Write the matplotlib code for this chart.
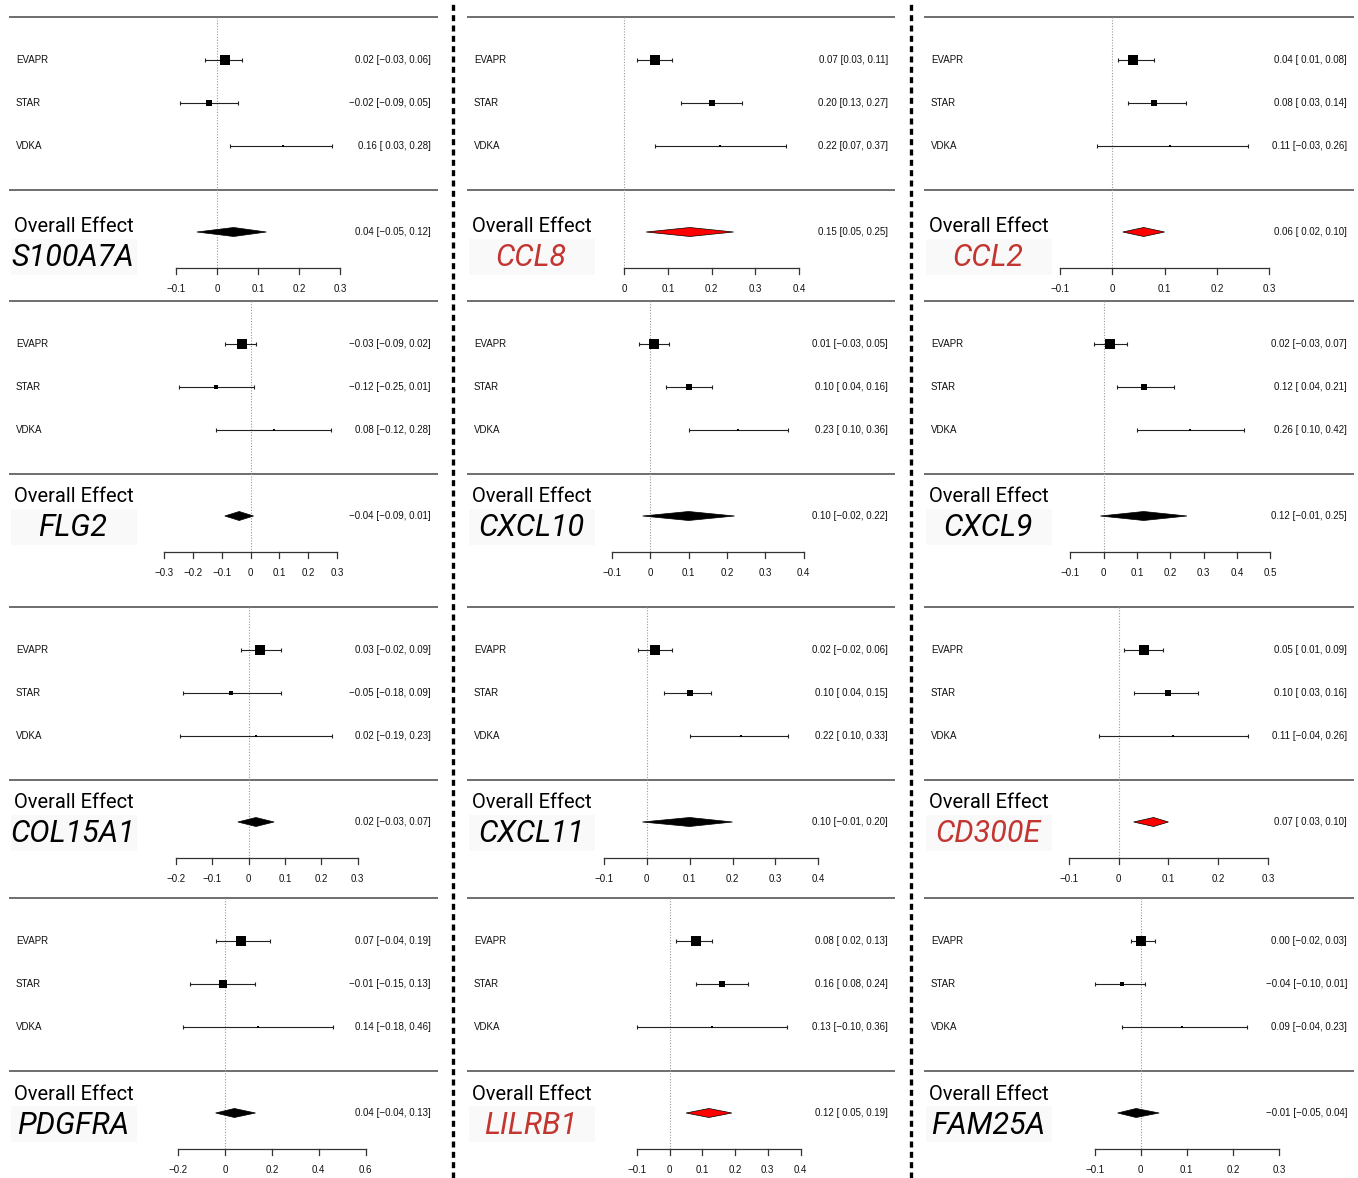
import matplotlib
matplotlib.use("Agg")
import matplotlib.pyplot as plt
from matplotlib.lines import Line2D
from matplotlib.patches import Rectangle

# genes, in reading order (row by row)
genes = ["S100A7A", "CCL8", "CCL2",
         "FLG2", "CXCL10", "CXCL9",
         "COL15A1", "CXCL11", "CD300E",
         "PDGFRA", "LILRB1", "FAM25A"]
highlight = [False, True, True,
             False, False, False,
             False, False, True,
             False, True, False]
studies = ["EVAPR", "STAR", "VDKA"]

evapr_est = [0.02, 0.07, 0.04, -0.03, 0.01, 0.02, 0.03, 0.02, 0.05, 0.07, 0.08, 0.00]
evapr_lo = [-0.03, 0.03, 0.01, -0.09, -0.03, -0.03, -0.02, -0.02, 0.01, -0.04, 0.02, -0.02]
evapr_hi = [0.06, 0.11, 0.08, 0.02, 0.05, 0.07, 0.09, 0.06, 0.09, 0.19, 0.13, 0.03]

star_est = [-0.02, 0.20, 0.08, -0.12, 0.10, 0.12, -0.05, 0.10, 0.10, -0.01, 0.16, -0.04]
star_lo = [-0.09, 0.13, 0.03, -0.25, 0.04, 0.04, -0.18, 0.04, 0.03, -0.15, 0.08, -0.10]
star_hi = [0.05, 0.27, 0.14, 0.01, 0.16, 0.21, 0.09, 0.15, 0.16, 0.13, 0.24, 0.01]

vdka_est = [0.16, 0.22, 0.11, 0.08, 0.23, 0.26, 0.02, 0.22, 0.11, 0.14, 0.13, 0.09]
vdka_lo = [0.03, 0.07, -0.03, -0.12, 0.10, 0.10, -0.19, 0.10, -0.04, -0.18, -0.10, -0.04]
vdka_hi = [0.28, 0.37, 0.26, 0.28, 0.36, 0.42, 0.23, 0.33, 0.26, 0.46, 0.36, 0.23]

overall_est = [0.04, 0.15, 0.06, -0.04, 0.10, 0.12, 0.02, 0.10, 0.07, 0.04, 0.12, -0.01]
overall_lo = [-0.05, 0.05, 0.02, -0.09, -0.02, -0.01, -0.03, -0.01, 0.03, -0.04, 0.05, -0.05]
overall_hi = [0.12, 0.25, 0.10, 0.01, 0.22, 0.25, 0.07, 0.20, 0.10, 0.13, 0.19, 0.04]

axis_ticks = [
    [-0.1, 0, 0.1, 0.2, 0.3], [0, 0.1, 0.2, 0.3, 0.4], [-0.1, 0, 0.1, 0.2, 0.3],
    [-0.3, -0.2, -0.1, 0, 0.1, 0.2, 0.3], [-0.1, 0, 0.1, 0.2, 0.3, 0.4],
    [-0.1, 0, 0.1, 0.2, 0.3, 0.4, 0.5],
    [-0.2, -0.1, 0, 0.1, 0.2, 0.3], [-0.1, 0, 0.1, 0.2, 0.3, 0.4], [-0.1, 0, 0.1, 0.2, 0.3],
    [-0.2, 0, 0.2, 0.4, 0.6], [-0.1, 0, 0.1, 0.2, 0.3, 0.4], [-0.1, 0, 0.1, 0.2, 0.3],
]

# layout (pixels)
W, H = 1358, 1178
col_left = [9, 467, 924]
col_right = [438, 895, 1354]
row_top = [17, 301, 607, 898]
zero_px = [217.3, 624.3, 1112.3, 250.7, 650.3, 1103.7, 248.7, 646.7, 1118.7, 225.0, 669.7, 1140.7]
px_per_unit = [409, 437, 523, 288, 383, 333, 363, 429, 497.5, 234.5, 327, 461]

small = dict(family="Liberation Sans", fontsize=7, color="#111111")
big_font = ["Roboto", "DejaVu Sans"]
red_txt = "#c23530"


def fnum(v):
    s = "%.2f" % v
    return s.replace("-", "\u2212")


def ci_text(est, lo, hi, pad):
    lo_s = fnum(lo)
    if pad and lo >= 0:
        lo_s = " " + lo_s
    return "%s [%s, %s]" % (fnum(est), lo_s, fnum(hi))


fig = plt.figure(figsize=(W / 100, H / 100), dpi=100)

for i, gene in enumerate(genes):
    r, c = divmod(i, 3)
    left, right, top = col_left[c], col_right[c], row_top[r]
    z, s = zero_px[i], px_per_unit[i]
    ax = fig.add_axes([left / W, 1 - (top + 285) / H, (right - left) / W, 295 / H])
    ax.set_ylim(285, -10)
    x0, x1 = (left - z) / s, (right - z) / s
    ax.set_xlim(x0, x1)
    ax.axis("off")

    def px(p):
        return (p - z) / s

    ax.plot([x0, x1], [0, 0], color="#555555", lw=1.2)
    ax.plot([x0, x1], [173, 173], color="#555555", lw=1.2)
    ax.plot([0, 0], [0, 251], color="#9a9a9a", lw=0.8, ls=(0, (1, 1.5)))

    est = [evapr_est[i], star_est[i], vdka_est[i]]
    lo = [evapr_lo[i], star_lo[i], vdka_lo[i]]
    hi = [evapr_hi[i], star_hi[i], vdka_hi[i]]
    pad = min(lo + [overall_lo[i]]) < 0

    inv = [1 / (h - l) for l, h in zip(lo, hi)]
    for k, y in enumerate([43, 86, 129]):
        t = (inv[k] - min(inv)) / (max(inv) - min(inv))
        size_px = 2.5 + 7 * t
        ax.errorbar(est[k], y, xerr=[[est[k] - lo[k]], [hi[k] - est[k]]], fmt="none",
                    ecolor="#222222", elinewidth=0.8, capsize=1.6, capthick=0.8)
        ax.plot(est[k], y, marker="s", ms=size_px * 0.72, color="black", mew=0)
        ax.text(px(left + 7), y, studies[k], ha="left", va="center", **small)
        ax.text(px(right - 7), y, ci_text(est[k], lo[k], hi[k], pad),
                ha="right", va="center", **small)

    # overall diamond
    yd, hd = 215, 4.5
    fc = "red" if highlight[i] else "black"
    ax.fill([overall_lo[i], overall_est[i], overall_hi[i], overall_est[i]],
            [yd, yd - hd, yd, yd + hd], facecolor=fc, edgecolor="black", lw=0.5, zorder=3)
    ax.text(px(right - 7), yd, ci_text(overall_est[i], overall_lo[i], overall_hi[i], pad),
            ha="right", va="center", **small)

    # x axis
    ticks = axis_ticks[i]
    ax.plot([ticks[0], ticks[-1]], [251, 251], color="#333333", lw=0.9)
    for tv in ticks:
        ax.plot([tv, tv], [251, 257], color="#333333", lw=0.9)
        lab = "0" if tv == 0 else ("%g" % tv).replace("-", "\u2212")
        ax.text(tv, 272, lab, ha="center", va="center", **small)

    # labels
    oe_y, gene_y = (209, 241) if r == 0 else (196, 227)
    ax.add_patch(Rectangle((px(left + 2), gene_y - 19), 126 / s, 36,
                           facecolor="#f9f9f9", edgecolor="none", zorder=0))
    ax.text(px(left + 5), oe_y, "Overall Effect", ha="left", va="center",
            family=big_font, fontsize=14.5, color="black")
    ax.text(px(left + 64), gene_y, gene, ha="center", va="center",
            family=big_font, fontsize=22, style="italic",
            color=red_txt if highlight[i] else "black")

# dashed column separators
for xs in [453, 911]:
    fig.add_artist(Line2D([xs / W, xs / W], [0, 1], transform=fig.transFigure,
                          color="black", lw=2.4, ls=(0, (1.8, 1.3))))

fig.savefig("out.png", dpi=100, facecolor="white")
